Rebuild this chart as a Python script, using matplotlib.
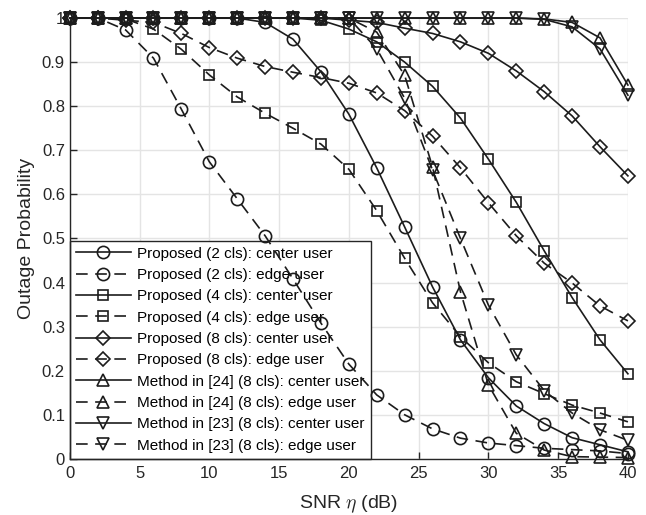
import matplotlib
matplotlib.use('Agg')
import matplotlib.pyplot as plt
from matplotlib.ticker import FuncFormatter

# SNR grid (dB)
snr = list(range(0, 41, 2))

# outage probability curves
p2_center = [1, 1, 1, 1, 1, 1, 1, 0.99, 0.952, 0.878, 0.782, 0.66, 0.526, 0.39,
             0.27, 0.184, 0.12, 0.08, 0.048, 0.032, 0.016]
p2_edge = [1, 1, 0.973, 0.909, 0.793, 0.674, 0.59, 0.506, 0.408, 0.308, 0.215,
           0.145, 0.1, 0.068, 0.047, 0.036, 0.03, 0.024, 0.021, 0.018, 0.012]
p4_center = [1, 1, 1, 1, 1, 1, 1, 1, 1, 0.995, 0.975, 0.946, 0.9, 0.845, 0.773,
             0.68, 0.582, 0.472, 0.366, 0.27, 0.193]
p4_edge = [1, 1, 0.998, 0.975, 0.929, 0.871, 0.821, 0.784, 0.75, 0.714, 0.657,
           0.563, 0.455, 0.354, 0.277, 0.218, 0.175, 0.148, 0.122, 0.104, 0.084]
p8_center = [1, 1, 1, 1, 1, 1, 1, 1, 1, 1, 0.995, 0.99, 0.977, 0.965, 0.946,
             0.92, 0.88, 0.833, 0.778, 0.708, 0.642]
p8_edge = [1, 1, 0.995, 0.99, 0.965, 0.933, 0.909, 0.89, 0.877, 0.865, 0.852,
           0.83, 0.79, 0.732, 0.66, 0.581, 0.506, 0.444, 0.399, 0.347, 0.313]
m24_center = [1, 1, 1, 1, 1, 1, 1, 1, 1, 1, 1, 1, 1, 1, 1, 1, 1, 0.998, 0.99,
              0.955, 0.848]
m24_edge = [1, 1, 1, 1, 1, 1, 1, 1, 1, 1, 1, 0.968, 0.87, 0.662, 0.379, 0.168,
            0.058, 0.02, 0.005, 0.004, 0.003]
m23_center = [1, 1, 1, 1, 1, 1, 1, 1, 1, 1, 1, 1, 1, 1, 1, 1, 1, 0.997, 0.98,
              0.93, 0.825]
m23_edge = [1, 1, 1, 1, 1, 1, 1, 1, 1, 1, 1, 0.93, 0.818, 0.655, 0.5, 0.349,
            0.236, 0.155, 0.104, 0.066, 0.042]

labels = [
    'Proposed (2 cls): center user',
    'Proposed (2 cls): edge user',
    'Proposed (4 cls): center user',
    'Proposed (4 cls): edge user',
    'Proposed (8 cls): center user',
    'Proposed (8 cls): edge user',
    'Method in [24] (8 cls): center user',
    'Method in [24] (8 cls): edge user',
    'Method in [23] (8 cls): center user',
    'Method in [23] (8 cls): edge user',
]
curves = [p2_center, p2_edge, p4_center, p4_edge, p8_center, p8_edge,
          m24_center, m24_edge, m23_center, m23_edge]
markers = ['o', 'o', 's', 's', 'D', 'D', '^', '^', 'v', 'v']
sizes = {'o': 8.8, 's': 7.6, 'D': 7.3, '^': 8.8, 'v': 8.8}

plt.rcParams['font.family'] = ['Liberation Sans', 'DejaVu Sans']
plt.rcParams['mathtext.fontset'] = 'cm'

fig = plt.figure(figsize=(6.46, 5.15), dpi=100)
ax = fig.add_axes([0.108, 0.109, 0.864, 0.856])

col = '#1c1c1c'
for i, (y, lab, m) in enumerate(zip(curves, labels, markers)):
    line, = ax.plot(snr, y, color=col, lw=1.2, marker=m, ms=sizes[m],
                    mfc='none', mec=col, mew=1.2, label=lab, zorder=3,
                    clip_on=False)
    if i % 2 == 1:
        line.set_dashes((7, 4.5))

ax.set_xlim(0, 40)
ax.set_ylim(0, 1)
ax.set_xticks(range(0, 41, 5))
ax.set_yticks([i / 10 for i in range(11)])
ax.yaxis.set_major_formatter(FuncFormatter(lambda v, p: '%g' % v))
ax.grid(True, color='#e4e4e4', lw=1.0)
ax.set_axisbelow(True)
for s in ['top', 'right']:
    ax.spines[s].set_visible(False)
for s in ['left', 'bottom']:
    ax.spines[s].set_color('#262626')
    ax.spines[s].set_linewidth(1.0)
ax.tick_params(direction='in', length=5, width=1.0, colors='#262626',
               labelsize=12, labelcolor='#262626')
ax.tick_params(axis='x', pad=5)

ax.set_xlabel(r'SNR $\eta$ (dB)', fontsize=14, color='#262626', labelpad=9)
ax.set_ylabel('Outage Probability', fontsize=14, color='#262626', labelpad=5)

# legend sits under the curves, filling the lower-left corner
leg = ax.legend(loc='lower left', bbox_to_anchor=(0.0, 0.0), borderaxespad=0.0,
                fontsize=11, handlelength=3.6, handletextpad=0.4,
                labelspacing=0.48, borderpad=0.4, fancybox=False,
                framealpha=1.0, edgecolor='#262626')
leg.get_frame().set_linewidth(1.0)
leg.set_zorder(2)

fig.savefig('out.png', dpi=100)
